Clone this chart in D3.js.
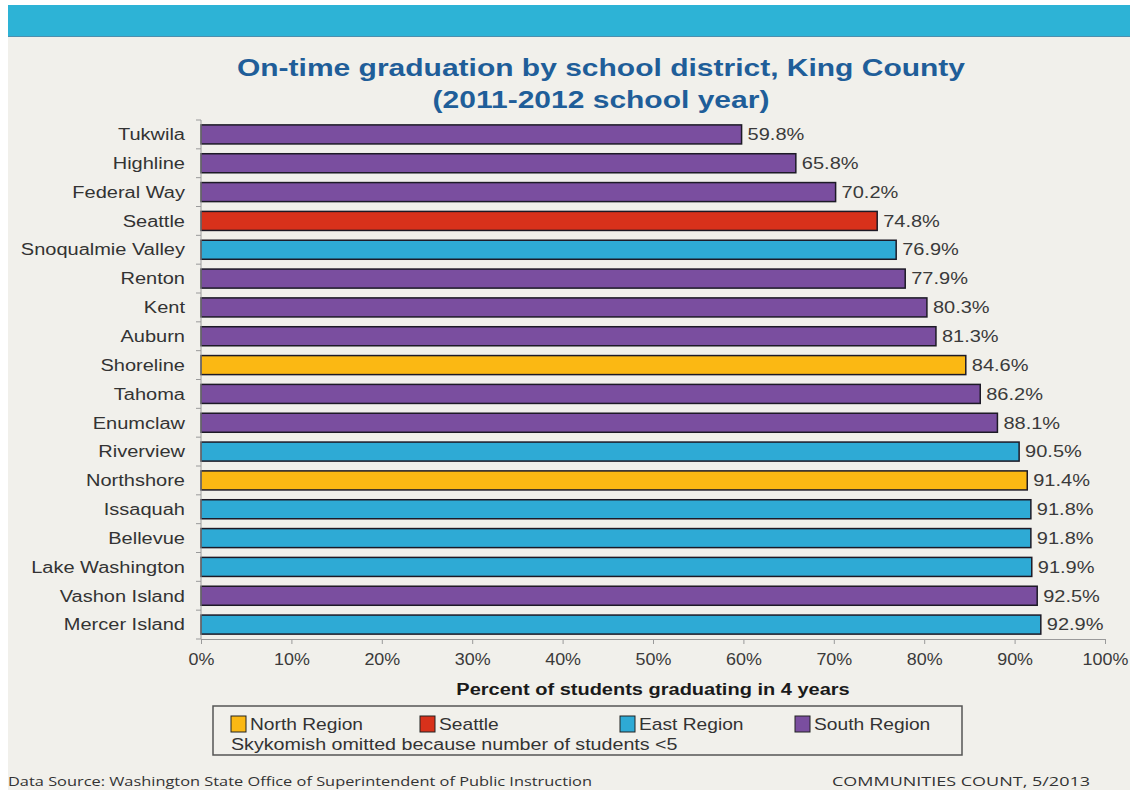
<!DOCTYPE html>
<html>
<head>
<meta charset="utf-8">
<script src="https://cdn.jsdelivr.net/npm/d3@7"></script>
<style>
html,body{margin:0;padding:0;background:#ffffff;}
svg{display:block;}
</style>
</head>
<body>
<svg id="chart" width="1135" height="793"></svg>
<script>
const districts = ["Tukwila","Highline","Federal Way","Seattle","Snoqualmie Valley","Renton","Kent","Auburn","Shoreline","Tahoma","Enumclaw","Riverview","Northshore","Issaquah","Bellevue","Lake Washington","Vashon Island","Mercer Island"];
const rates = [59.8,65.8,70.2,74.8,76.9,77.9,80.3,81.3,84.6,86.2,88.1,90.5,91.4,91.8,91.8,91.9,92.5,92.9];
const regions = ["South","South","South","Seattle","East","South","South","South","North","South","South","East","North","East","East","East","South","East"];
const regionKeys = ["North","Seattle","East","South"];
const regionLabels = ["North Region","Seattle","East Region","South Region"];
const regionColors = ["#fbb813","#d8311b","#2eaad5","#7a4e9f"];
const xTicks = [0,10,20,30,40,50,60,70,80,90,100];

(function(){
const svg = d3.select("#chart");

// horizontal stretch helper (reference text is horizontally stretched)
function stretch(sel, s){
  sel.each(function(){
    const t = d3.select(this);
    const ax = +t.attr("x") || 0;
    t.attr("transform", `translate(${ax},0) scale(${s},1) translate(${-ax},0)`);
  });
}

// slide background
svg.append("rect").attr("x",8).attr("y",5).attr("width",1122).attr("height",785).attr("fill","#f1f0eb");
svg.append("rect").attr("x",8).attr("y",5).attr("width",1122).attr("height",32).attr("fill","#2db3d6");
svg.append("line").attr("x1",8).attr("x2",1130).attr("y1",36.5).attr("y2",36.5).attr("stroke","#4d8fae").attr("stroke-width",1);

// title
const font = "Liberation Sans, Arial, sans-serif";
const t1 = svg.append("text").attr("x",601).attr("y",76).attr("text-anchor","middle")
  .attr("font-family",font).attr("font-weight","bold").attr("font-size",24).attr("fill","#1f5e99")
  .text("On-time graduation by school district, King County");
const t2 = svg.append("text").attr("x",601).attr("y",108).attr("text-anchor","middle")
  .attr("font-family",font).attr("font-weight","bold").attr("font-size",24).attr("fill","#1f5e99")
  .text("(2011-2012 school year)");
stretch(t1, 1.25); stretch(t2, 1.25);

const pLeft = 201, pRight = 1105, pTop = 120, pBottom = 639;
const x = d3.scaleLinear().domain([0,100]).range([pLeft,pRight]);
const y = d3.scaleBand().domain(districts).range([pTop,pBottom]).paddingInner(0.34).paddingOuter(0.17);
const color = d3.scaleOrdinal().domain(regionKeys).range(regionColors);

// bars
svg.append("g").selectAll("rect").data(districts).join("rect")
  .attr("x", x(0))
  .attr("y", d => y(d))
  .attr("width", (d,i) => x(rates[i]) - x(0))
  .attr("height", y.bandwidth())
  .attr("fill", (d,i) => color(regions[i]))
  .attr("stroke","#1d1a26").attr("stroke-width",1.5);

// value labels
const vl = svg.append("g").selectAll("text").data(districts).join("text")
  .attr("x", (d,i) => x(rates[i]) + 6)
  .attr("y", d => y(d) + y.bandwidth()/2)
  .attr("dy","0.36em")
  .attr("font-family",font).attr("font-size",16).attr("fill","#3a3a3a")
  .text((d,i) => rates[i].toFixed(1) + "%");
stretch(vl, 1.25);

// y axis
const yAxis = svg.append("g");
yAxis.append("line").attr("x1",pLeft).attr("x2",pLeft).attr("y1",pTop).attr("y2",pBottom).attr("stroke","#9a9a9a");
const bounds = d3.range(districts.length+1).map(i => pTop + i*(pBottom-pTop)/districts.length);
yAxis.selectAll("line.tk").data(bounds).join("line").attr("class","tk")
  .attr("x1",pLeft-5).attr("x2",pLeft).attr("y1",d=>d).attr("y2",d=>d).attr("stroke","#9a9a9a");
const yl = yAxis.selectAll("text").data(districts).join("text")
  .attr("x", pLeft-16).attr("y", d => y(d) + y.bandwidth()/2).attr("dy","0.36em")
  .attr("text-anchor","end").attr("font-family",font).attr("font-size",16).attr("fill","#333")
  .text(d => d);
stretch(yl, 1.25);

// x axis
const xAxisG = svg.append("g").attr("transform",`translate(0,${pBottom})`)
  .call(d3.axisBottom(x).tickValues(xTicks).tickFormat(d => d + "%").tickSize(5).tickSizeOuter(0).tickPadding(10));
xAxisG.select(".domain").attr("stroke","#9a9a9a");
xAxisG.selectAll(".tick line").attr("stroke","#9a9a9a");
xAxisG.selectAll(".tick text").attr("font-family",font).attr("font-size",16).attr("fill","#3a3a3a")
  .attr("transform","scale(1.12,1)");

const at = svg.append("text").attr("x",653).attr("y",695).attr("text-anchor","middle")
  .attr("font-family",font).attr("font-weight","bold").attr("font-size",16).attr("fill","#1a1a1a")
  .text("Percent of students graduating in 4 years");
stretch(at, 1.25);

// legend
svg.append("rect").attr("x",213).attr("y",706).attr("width",749).attr("height",49)
  .attr("fill","none").attr("stroke","#555").attr("stroke-width",1.5);
const legX = [231,420,620,795];
const leg = svg.append("g").selectAll("g").data(regionKeys).join("g")
  .attr("transform",(d,i)=>`translate(${legX[i]},716)`);
leg.append("rect").attr("width",15).attr("height",16).attr("fill",d=>color(d)).attr("stroke","#222").attr("stroke-width",1);
const lt = leg.append("text").attr("x",19).attr("y",14).attr("font-family",font).attr("font-size",16).attr("fill","#333")
  .text((d,i)=>regionLabels[i]);
stretch(lt, 1.2);
const sk = svg.append("text").attr("x",231).attr("y",750).attr("font-family",font).attr("font-size",16).attr("fill","#333")
  .text("Skykomish omitted because number of students <5");
stretch(sk, 1.23);

// footer
const f1 = svg.append("text").attr("x",8).attr("y",786).attr("font-family","Open Sans, sans-serif").attr("font-size",13.5).attr("fill","#333")
  .attr("textLength",584).attr("lengthAdjust","spacingAndGlyphs")
  .text("Data Source: Washington State Office of Superintendent of Public Instruction");
const f2 = svg.append("text").attr("x",832).attr("y",786).attr("font-family","Open Sans, sans-serif").attr("font-size",13.5).attr("fill","#333")
  .attr("textLength",258).attr("lengthAdjust","spacingAndGlyphs")
  .text("COMMUNITIES COUNT, 5/2013");
})();
</script>
</body>
</html>
